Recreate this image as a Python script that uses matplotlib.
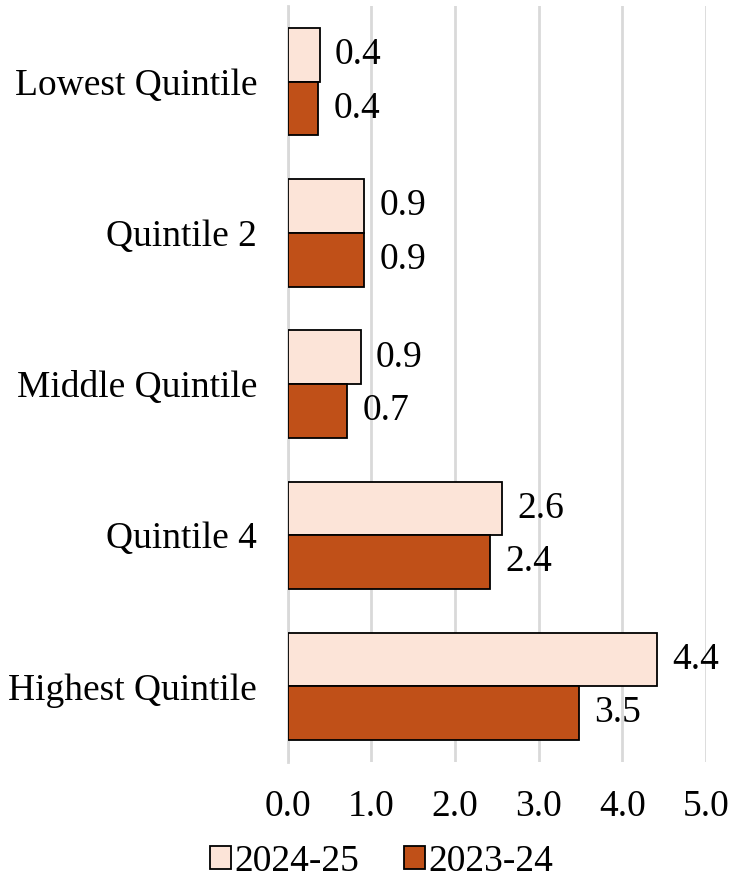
import matplotlib.pyplot as plt
import numpy as np

plt.rcParams['font.family'] = ['Liberation Serif', 'DejaVu Serif']

# data
categories = ['Lowest Quintile', 'Quintile 2', 'Middle Quintile', 'Quintile 4', 'Highest Quintile']
series_names = ['2024-25', '2023-24']
vals_2024_25 = [0.38, 0.91, 0.87, 2.56, 4.41]
vals_2023_24 = [0.36, 0.91, 0.71, 2.42, 3.48]
x_ticks = [0.0, 1.0, 2.0, 3.0, 4.0, 5.0]

light = '#FCE4D8'
dark = '#C05018'

fig = plt.figure(figsize=(7.34, 8.86), dpi=100)
ax = fig.add_axes([0.392, 0.14, 0.57, 0.853])

y = np.arange(len(categories))
h = 0.355

b1 = ax.barh(y - h / 2, vals_2024_25, height=h, color=light, edgecolor='black',
             linewidth=1.3, label=series_names[0], zorder=3)
b2 = ax.barh(y + h / 2, vals_2023_24, height=h, color=dark, edgecolor='black',
             linewidth=1.3, label=series_names[1], zorder=3)

# value labels next to bar ends
for bars, vals in [(b1, vals_2024_25), (b2, vals_2023_24)]:
    for bar, v in zip(bars, vals):
        ax.annotate(f'{v:.1f}', (bar.get_width(), bar.get_y() + bar.get_height() / 2),
                    xytext=(11, 0), textcoords='offset points',
                    ha='left', va='center', fontsize=27)

ax.set_xlim(0, 5)
ax.set_ylim(len(categories) - 0.5, -0.5)
ax.set_xticks(x_ticks)
ax.set_xticklabels([f'{t:.1f}' for t in x_ticks])
ax.set_yticks(y)
ax.set_yticklabels(categories)
ax.tick_params(axis='both', length=0, labelsize=27)
ax.tick_params(axis='y', pad=22)
ax.tick_params(axis='x', pad=20)

ax.grid(axis='x', color='#D9D9D9', linewidth=2, zorder=0)
for s in ['top', 'right', 'bottom']:
    ax.spines[s].set_visible(False)
ax.spines['left'].set_color('#D9D9D9')
ax.spines['left'].set_linewidth(2)

fig.legend(handles=[b1, b2], loc='lower center', bbox_to_anchor=(0.52, -0.03),
           ncol=2, frameon=False, fontsize=27, handlelength=0.55, handleheight=0.55,
           handletextpad=0.1, columnspacing=1.2)

fig.savefig('out.png', dpi=100)
